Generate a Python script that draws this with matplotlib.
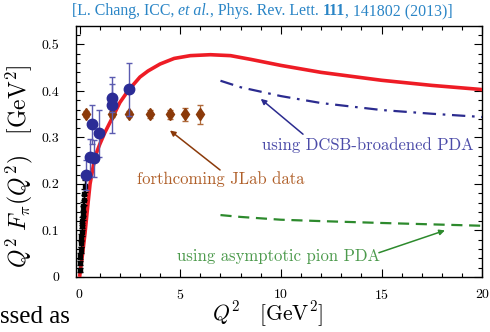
import numpy as np
import matplotlib
matplotlib.use('Agg')
import matplotlib.pyplot as plt
from matplotlib.ticker import MultipleLocator
from matplotlib.text import Annotation

plt.rcParams['mathtext.fontset'] = 'cm'
plt.rcParams['axes.formatter.use_mathtext'] = True

# DSE prediction (red solid)
q2_dse = [0.0, 0.15, 0.27, 0.4, 0.52, 0.77, 1.0, 1.25, 1.6, 2.0, 2.4, 3.0, 3.4, 4.0,
          4.7, 5.5, 6.5, 7.5, 8.5, 10.0, 12.0, 15.0, 17.5, 20.0]
f_dse = [0.0, 0.05, 0.094, 0.15, 0.2, 0.259, 0.285, 0.31, 0.34, 0.375, 0.40, 0.43,
         0.443, 0.458, 0.47, 0.476, 0.478, 0.476, 0.468, 0.455, 0.44, 0.423, 0.412, 0.403]

# DCSB-broadened PDA (dash-dot)
q2_dcsb = [7.0, 8.0, 10.0, 12.0, 15.0, 17.5, 20.0]
f_dcsb = [0.422, 0.408, 0.389, 0.374, 0.359, 0.351, 0.344]

# asymptotic PDA (dashed)
q2_asy = [7.0, 8.0, 10.0, 12.0, 15.0, 17.5, 20.0]
f_asy = [0.133, 0.129, 0.123, 0.12, 0.116, 0.113, 0.110]

# existing data (blue)
q2_data = [0.32, 0.52, 0.74, 0.64, 0.97, 1.6, 1.6, 2.45]
f_data = [0.219, 0.257, 0.255, 0.328, 0.309, 0.384, 0.370, 0.404]
err_data = [0.033, 0.04, 0.04, 0.042, 0.05, 0.03, 0.06, 0.057]

# low-Q2 data (black)
q2_low = [0.015, 0.03, 0.045, 0.06, 0.075, 0.09, 0.105, 0.12, 0.135, 0.15,
          0.165, 0.18, 0.2, 0.22, 0.25]
f_low = [0.015, 0.03, 0.045, 0.058, 0.072, 0.085, 0.097, 0.109, 0.12, 0.131,
         0.142, 0.152, 0.165, 0.178, 0.195]
err_low = [0.005, 0.005, 0.006, 0.006, 0.007, 0.007, 0.008, 0.008, 0.009, 0.009,
           0.01, 0.01, 0.011, 0.012, 0.013]

# projected JLab data (brown)
q2_jlab = [0.3, 1.6, 2.45, 3.5, 4.5, 5.25, 6.0]
f_jlab = [0.35, 0.35, 0.35, 0.35, 0.35, 0.35, 0.35]
err_jlab = [0.006, 0.006, 0.007, 0.008, 0.01, 0.014, 0.02]

xticks = [0, 5, 10, 15, 20]
yticks = [0, 0.1, 0.2, 0.3, 0.4, 0.5]
yticklabels = ['0', '0.1', '0.2', '0.3', '0.4', '0.5']

fig = plt.figure(figsize=(4.9, 3.32), dpi=100)
ax = fig.add_axes([0.155, 0.166, 0.829, 0.756])

ax.plot(q2_dse, f_dse, color='#ee1c25', lw=2.6, zorder=3, solid_capstyle='butt')
ax.plot(q2_dcsb, f_dcsb, color='#2b2b8f', lw=1.6, dashes=(6, 3, 1.2, 3), zorder=3)
ax.plot(q2_asy, f_asy, color='#2d8a2d', lw=1.6, dashes=(5, 3), zorder=3)

ax.errorbar(q2_low, f_low, yerr=err_low, fmt='s', color='black', ms=3.2,
            elinewidth=1.0, capsize=2, zorder=4)
ax.errorbar(q2_jlab, f_jlab, yerr=err_jlab, fmt='d', color='#8b3a0a', ms=6,
            mec='#8b3a0a', ecolor='#b06a3a', elinewidth=0.9, capsize=2, zorder=4)
ax.errorbar(q2_data, f_data, yerr=err_data, fmt='o', color='#2b2c96', ms=7.5,
            ecolor='#5b5bb0', elinewidth=1.0, capsize=2, zorder=5)

# annotations
ax.annotate('', xy=(9.0, 0.383), xytext=(11.1, 0.307),
            arrowprops=dict(arrowstyle='-|>', color='#2b2b8f', lw=1.1,
                            mutation_scale=8, shrinkA=0, shrinkB=0))
ax.text(14.3, 0.284, 'using DCSB-broadened PDA', color='#4b4ba8', family='cmr10',
        fontsize=12, ha='center', va='center')

ax.annotate('', xy=(4.49, 0.315), xytext=(6.98, 0.23),
            arrowprops=dict(arrowstyle='-|>', color='#8b3a0a', lw=1.1,
                            mutation_scale=8, shrinkA=0, shrinkB=0))
ax.text(7.0, 0.21, 'forthcoming JLab data', color='#b0602a', family='cmr10',
        fontsize=12, ha='center', va='center')

ax.annotate('', xy=(18.15, 0.1), xytext=(14.87, 0.052),
            arrowprops=dict(arrowstyle='-|>', color='#2d8a2d', lw=1.1,
                            mutation_scale=8, shrinkA=0, shrinkB=0))
ax.text(9.87, 0.045, 'using asymptotic pion PDA', color='#4c9a4c', family='cmr10',
        fontsize=12, ha='center', va='center')

ax.set_xlim(-0.18, 20)
ax.set_ylim(0, 0.54)
ax.set_xticks(xticks)
ax.set_yticks(yticks)
ax.set_yticklabels(yticklabels)
ax.xaxis.set_minor_locator(MultipleLocator(1))
ax.yaxis.set_minor_locator(MultipleLocator(0.02))
ax.tick_params(which='both', direction='in', top=True, right=True, width=0.8,
               labelsize=10, labelfontfamily='cmr10')
ax.tick_params(which='major', length=6)
ax.tick_params(which='minor', length=3)
ax.tick_params(axis='x', pad=8)
ax.tick_params(axis='y', pad=12)
for s in ax.spines.values():
    s.set_linewidth(1.0)

ax.set_xlabel(r'$Q^2\ \ \ [\mathrm{GeV}^2]$', fontsize=15.5)
ax.set_ylabel(r'$Q^2\;F_\pi(Q^2)\quad[\mathrm{GeV}^2]$', fontsize=17)
ax.xaxis.set_label_coords(0.472, -0.09)
ax.yaxis.set_label_coords(-0.1, 0.44)

# citation line above the plot
tc = '#2a85c6'
tfs = 11.4
t1 = fig.text(0.147, 0.942, '[L. Chang, ICC, ', family='Liberation Serif',
              color=tc, fontsize=tfs, va='bottom')
t2 = fig.add_artist(Annotation('et al.', xy=(1, 0), xycoords=t1, va='bottom',
                               family='Liberation Serif', style='italic',
                               color=tc, fontsize=tfs))
t3 = fig.add_artist(Annotation(', Phys. Rev. Lett. ', xy=(1, 0), xycoords=t2,
                               va='bottom', family='Liberation Serif',
                               color=tc, fontsize=tfs))
t4 = fig.add_artist(Annotation('111', xy=(1, 0), xycoords=t3, va='bottom',
                               family='Liberation Serif', weight='bold',
                               color=tc, fontsize=tfs))
t5 = fig.add_artist(Annotation(', 141802 (2013)]', xy=(1, 0), xycoords=t4,
                               va='bottom', family='Liberation Serif',
                               color=tc, fontsize=tfs))

# cropped text from surrounding page
fig.text(0.0, 0.045, 'ssed as', family='Liberation Serif', fontsize=18,
         va='center', ha='left')

fig.savefig('out.png', dpi=100)
